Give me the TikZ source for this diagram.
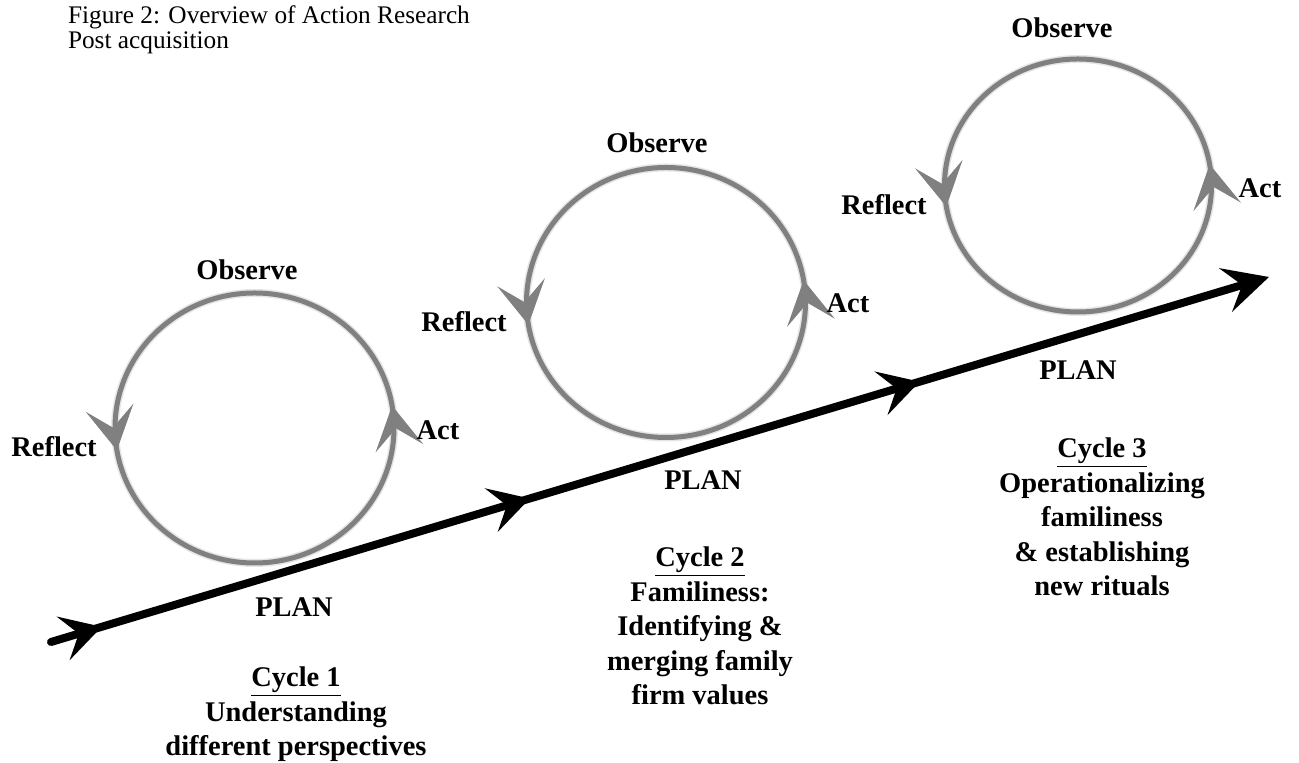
\documentclass[tikz,border=0pt]{standalone}
\usepackage{fontspec}
\setmainfont{Liberation Serif}
\usetikzlibrary{arrows.meta}
\usetikzlibrary{calc}
\usetikzlibrary{decorations.markings}
\usetikzlibrary{positioning}
\begin{document}
\begin{tikzpicture}[x=0.02cm,y=0.02cm,inner sep=0mm,outer sep=0mm
  ,line cap=round,line join=round
  ,lbl/.style={font=\fontsize{16.2}{19.6}\selectfont\bfseries}
  ,cyctxt/.style={lbl,align=center,anchor=north}
  ,ring/.style={draw=gray,line width=1mm,preaction={draw=black!10,line width=1.6mm}
    ,postaction={decorate},decoration={markings
      ,mark=at position 0.026 with {\arrow{Stealth[length=8.6mm,width=9.6mm,inset=4mm,color=gray]}}
      ,mark=at position 0.526 with {\arrow{Stealth[length=8.6mm,width=9.6mm,inset=4mm,color=gray]}}}}
  ,plan/.style={line width=1.6mm,-{Stealth[length=9mm,width=9mm,inset=3.4mm]}
    ,postaction={decorate},decoration={markings
      ,mark=at position 1.06cm with {\arrow{Stealth[length=8mm,width=9mm,inset=3.2mm]}}
      ,mark=at position 10cm with {\arrow{Stealth[length=8mm,width=9mm,inset=3.2mm]}}
      ,mark=at position 18.14cm with {\arrow{Stealth[length=8mm,width=9mm,inset=3.2mm]}}}}]
\useasboundingbox (0,0) rectangle (1299,763);
\def\rxA{139.5}; \def\ryA{135};
\def\rxC{133.5}; \def\ryC{126.5};

\node[anchor=north west,align=left,font=\fontsize{14.4}{13.8}\selectfont] (title) at (68,757)
  {Figure 2: Overview of Action Research\\Post acquisition};

\coordinate (S) at (51,121);
\coordinate (E) at (1269,486);
\draw[plan] (S) -- (E);

\coordinate (C1) at (254.5,335);
\draw[ring] (C1) ellipse [x radius=\rxA, y radius=\ryA];
\node[lbl] (obs1) at (247,493) {Observe};
\node[lbl] (ref1) at (54,316) {Reflect};
\node[lbl] (act1) at (438,333) {Act};
\node[lbl] (plan1) at (294,156) {PLAN};
\node[cyctxt] (cyc1) at (296,96)
  {\underline{Cycle 1}\\Understanding\\different perspectives};

\coordinate (C2) at (666,460.5);
\draw[ring] (C2) ellipse [x radius=\rxA, y radius=\ryA];
\node[lbl] (obs2) at (657,620) {Observe};
\node[lbl] (ref2) at (464,441) {Reflect};
\node[lbl] (act2) at (848,460) {Act};
\node[lbl] (plan2) at (703,283) {PLAN};
\node[cyctxt] (cyc2) at (700,216)
  {\underline{Cycle 2}\\Familiness:\\Identifying \&\\merging family\\firm values};

\coordinate (C3) at (1078,577.5);
\draw[ring] (C3) ellipse [x radius=\rxC, y radius=\ryC];
\node[lbl] (obs3) at (1062,735) {Observe};
\node[lbl] (ref3) at (884,558) {Reflect};
\node[lbl] (act3) at (1260,575) {Act};
\node[lbl] (plan3) at (1078,393) {PLAN};
\node[cyctxt] (cyc3) at (1102,325)
  {\underline{Cycle 3}\\Operationalizing\\familiness\\\& establishing\\new rituals};

\end{tikzpicture}
\end{document}
